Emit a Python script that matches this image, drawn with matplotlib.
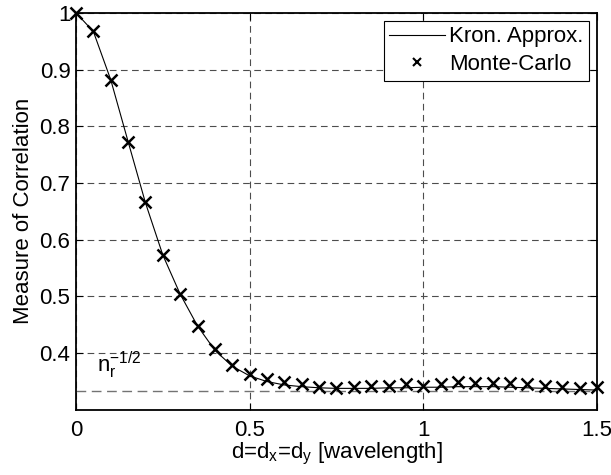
import matplotlib
matplotlib.use("Agg")
import matplotlib.pyplot as plt

plt.rcParams['font.family'] = ['Liberation Sans', 'DejaVu Sans']
plt.rcParams['mathtext.fontset'] = 'custom'
plt.rcParams['mathtext.rm'] = 'Liberation Sans'

d = [0.00, 0.05, 0.10, 0.15, 0.20, 0.25, 0.30, 0.35, 0.40, 0.45, 0.50,
     0.55, 0.60, 0.65, 0.70, 0.75, 0.80, 0.85, 0.90, 0.95, 1.00,
     1.05, 1.10, 1.15, 1.20, 1.25, 1.30, 1.35, 1.40, 1.45, 1.50]
kron = [1.000, 0.967, 0.882, 0.773, 0.665, 0.573, 0.504, 0.448, 0.405, 0.377, 0.360,
        0.350, 0.344, 0.341, 0.339, 0.338, 0.338, 0.338, 0.339, 0.339, 0.340,
        0.340, 0.341, 0.341, 0.341, 0.340, 0.339, 0.338, 0.337, 0.336, 0.335]
monte = [1.000, 0.968, 0.882, 0.773, 0.666, 0.573, 0.505, 0.448, 0.407, 0.379, 0.363,
         0.355, 0.349, 0.345, 0.340, 0.339, 0.340, 0.343, 0.342, 0.345, 0.343,
         0.345, 0.349, 0.348, 0.348, 0.348, 0.346, 0.342, 0.340, 0.338, 0.340]
n_r = 9
ref_level = n_r ** -0.5
xticks = [0, 0.5, 1, 1.5]
xticklabels = ['0', '0.5', '1', '1.5']
yticks = [0.4, 0.5, 0.6, 0.7, 0.8, 0.9, 1.0]
yticklabels = ['0.4', '0.5', '0.6', '0.7', '0.8', '0.9', '1']

FS = 16

fig = plt.figure(figsize=(6.11, 4.75), dpi=100)
ax = fig.add_axes([0.1244, 0.137, 0.8526, 0.836])

ax.plot([d[0], d[-1]], [ref_level, ref_level], color='0.45', lw=1.0,
        dashes=(7, 4), zorder=2)
ax.plot(d, kron, color='black', lw=0.8, label='Kron. Approx.', zorder=3)
ax.plot(d, monte, ls='none', marker='x', ms=8, mew=1.8, color='black',
        label='Monte-Carlo', zorder=4, clip_on=False)

ax.text(0.06, 0.366, r'$\mathregular{n_r^{-1/2}}$', fontsize=FS,
        ha='left', va='baseline')

ax.set_xlim(0, 1.5)
ax.set_ylim(0.3, 1.0)
ax.set_xticks(xticks)
ax.set_xticklabels(xticklabels)
ax.set_yticks(yticks)
ax.set_yticklabels(yticklabels)
ax.tick_params(direction='in', top=True, right=True, labelsize=FS,
               length=5, width=0.8)
ax.tick_params(axis='x', pad=7)
ax.tick_params(axis='y', pad=4)
ax.grid(True, color='0.3', ls=(0, (6, 4)), lw=0.8)
for s in ax.spines.values():
    s.set_linewidth(1.3)

ax.set_xlabel(r'd=d$_\mathregular{x}$=d$_\mathregular{y}$ [wavelength]', fontsize=FS, labelpad=0)
ax.set_ylabel('Measure of Correlation', fontsize=FS, labelpad=4)

leg = ax.legend(loc='upper right', fontsize=FS, frameon=True, fancybox=False,
                edgecolor='black', framealpha=1, handlelength=2.5,
                borderpad=0.25, labelspacing=0.3, handletextpad=0.2,
                borderaxespad=0, bbox_to_anchor=(0.985, 0.98))
leg.get_frame().set_linewidth(0.8)
leg.set_zorder(10)
for h in leg.legend_handles:
    if h.get_marker() == 'x':
        h.set_markersize(6)
        h.set_markeredgewidth(1.5)

fig.savefig('out.png', dpi=100)
